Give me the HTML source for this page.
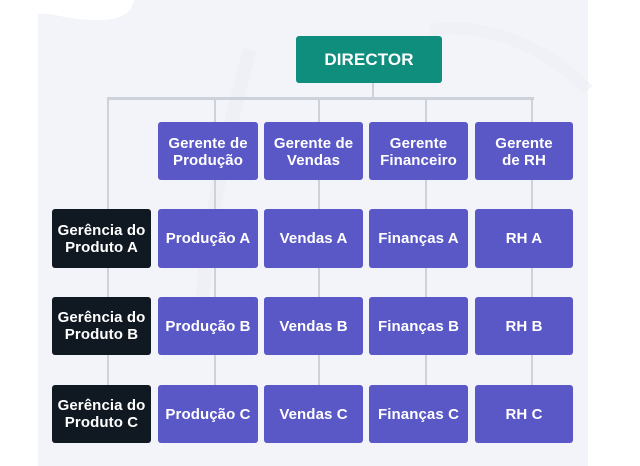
<!DOCTYPE html>
<html>
<head>
<meta charset="utf-8">
<style>
  html, body { margin:0; padding:0; }
  body { width:640px; height:466px; background:#ffffff; position:relative; overflow:hidden;
         font-family:"Liberation Sans", Arial, sans-serif; }
  .panel { position:absolute; left:38px; top:0; width:550px; height:466px; background:#f3f4f9; }
  .ln { position:absolute; background:#cdd2da; }
  .box { position:absolute; display:flex; align-items:center; justify-content:center; text-align:center;
         color:#fff; font-weight:bold; font-size:15px; line-height:17px; border-radius:3px; letter-spacing:0.1px; }
  .p { background:#5a57c6; }
  .d { background:#101821; }
  .t { background:#0f8e7d; font-size:17px; }
</style>
</head>
<body>
<div class="panel"></div>
<svg style="position:absolute;left:0;top:0" width="640" height="466">
  <path d="M38 0 L134 0 C132 10 126 16 112 19 C90 22 70 18 55 15 C45 13 40 14 38 14 Z" fill="#ffffff"/>
  <path d="M200 330 C205 230 230 120 250 50" stroke="#eceef5" stroke-width="14" fill="none" opacity="0.7"/>
  <path d="M430 30 C500 20 560 60 588 90" stroke="#eceef5" stroke-width="12" fill="none" opacity="0.6"/>
</svg>

<!-- connectors -->
<div class="ln" style="left:372px;top:83px;width:2px;height:15px;"></div>
<div class="ln" style="left:107px;top:97px;width:427px;height:3px;"></div>
<div class="ln" style="left:107px;top:98px;width:2px;height:288px;"></div>
<div class="ln" style="left:214px;top:98px;width:2px;height:288px;"></div>
<div class="ln" style="left:318px;top:98px;width:2px;height:288px;"></div>
<div class="ln" style="left:425px;top:98px;width:2px;height:288px;"></div>
<div class="ln" style="left:531px;top:98px;width:2px;height:288px;"></div>

<!-- director -->
<div class="box t" style="left:296px;top:36px;width:146px;height:47px;">DIRECTOR</div>

<!-- row 1 -->
<div class="box p" style="left:158px;top:122px;width:100px;height:58px;padding-top:1px;box-sizing:border-box;">Gerente de<br>Produção</div>
<div class="box p" style="left:264px;top:122px;width:99px;height:58px;padding-top:1px;box-sizing:border-box;">Gerente de<br>Vendas</div>
<div class="box p" style="left:369px;top:122px;width:99px;height:58px;padding-top:1px;box-sizing:border-box;">Gerente<br>Financeiro</div>
<div class="box p" style="left:475px;top:122px;width:98px;height:58px;padding-top:1px;box-sizing:border-box;">Gerente<br>de RH</div>

<!-- row 2 -->
<div class="box d" style="left:52px;top:209px;width:99px;height:59px;">Gerência do<br>Produto A</div>
<div class="box p" style="left:158px;top:209px;width:100px;height:59px;">Produção A</div>
<div class="box p" style="left:264px;top:209px;width:99px;height:59px;">Vendas A</div>
<div class="box p" style="left:369px;top:209px;width:99px;height:59px;">Finanças A</div>
<div class="box p" style="left:475px;top:209px;width:98px;height:59px;">RH A</div>

<!-- row 3 -->
<div class="box d" style="left:52px;top:297px;width:99px;height:58px;">Gerência do<br>Produto B</div>
<div class="box p" style="left:158px;top:297px;width:100px;height:58px;">Produção B</div>
<div class="box p" style="left:264px;top:297px;width:99px;height:58px;">Vendas B</div>
<div class="box p" style="left:369px;top:297px;width:99px;height:58px;">Finanças B</div>
<div class="box p" style="left:475px;top:297px;width:98px;height:58px;">RH B</div>

<!-- row 4 -->
<div class="box d" style="left:52px;top:385px;width:99px;height:58px;">Gerência do<br>Produto C</div>
<div class="box p" style="left:158px;top:385px;width:100px;height:58px;">Produção C</div>
<div class="box p" style="left:264px;top:385px;width:99px;height:58px;">Vendas C</div>
<div class="box p" style="left:369px;top:385px;width:99px;height:58px;">Finanças C</div>
<div class="box p" style="left:475px;top:385px;width:98px;height:58px;">RH C</div>
</body>
</html>
